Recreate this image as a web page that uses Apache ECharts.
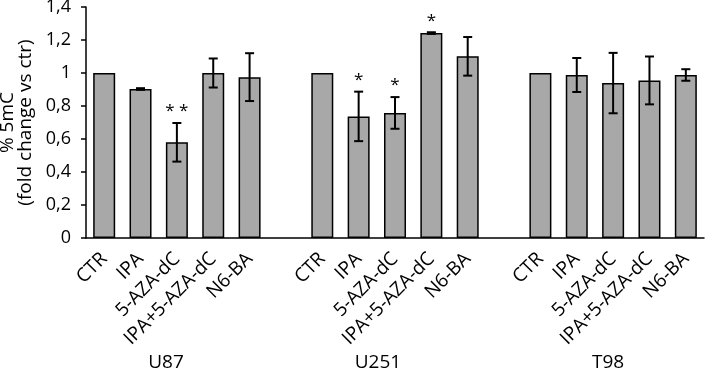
<!DOCTYPE html>
<html>
<head>
<meta charset="utf-8">
<script src="https://cdn.jsdelivr.net/npm/echarts@6/dist/echarts.min.js"></script>
<style>
  html, body { margin: 0; padding: 0; background: #fff; }
  #chart { width: 706px; height: 370px; }
</style>
</head>
<body>
<div id="chart"></div>
<script>
// 细胞系与处理
const groups = ['U87', 'U251', 'T98'];
const treatments = ['CTR', 'IPA', '5-AZA-dC', 'IPA+5-AZA-dC', 'N6-BA'];

// 均值 / 误差 / 显著性
const u87Means = [1.0, 0.903, 0.58, 1.0, 0.975];
const u87Errors = [0, 0.005, 0.117, 0.088, 0.145];
const u87Stars = ['', '', '**', '', ''];

const u251Means = [1.0, 0.737, 0.758, 1.242, 1.101];
const u251Errors = [0, 0.15, 0.096, 0.005, 0.117];
const u251Stars = ['', '*', '*', '*', ''];

const t98Means = [1.0, 0.988, 0.939, 0.955, 0.988];
const t98Errors = [0, 0.103, 0.183, 0.145, 0.035];
const t98Stars = ['', '', '', '', ''];

// group label positions on the slot scale (0..17)
const groupLabelPos = [2.2, 8.03, 14.36];

const FONT = '"Open Sans", "Noto Sans", sans-serif';

const allMeans = [u87Means, u251Means, t98Means];
const allErrors = [u87Errors, u251Errors, t98Errors];
const allStars = [u87Stars, u251Stars, t98Stars];

// build categories with one empty slot between groups
const categories = [];
const barData = [];
const errData = [];
groups.forEach((g, gi) => {
  if (gi > 0) {
    categories.push('');
    barData.push('-');
  }
  treatments.forEach((t, ti) => {
    const idx = categories.length;
    categories.push(t);
    barData.push(allMeans[gi][ti]);
    errData.push([idx, allMeans[gi][ti], allErrors[gi][ti], allStars[gi][ti]]);
  });
});

const chart = echarts.init(document.getElementById('chart'));

const option = {
  animation: false,
  backgroundColor: '#fff',
  grid: { left: 86, right: 2, top: 7, bottom: 132, outerBoundsMode: 'none' },
  xAxis: [
    {
      type: 'category',
      data: categories,
      axisLine: { lineStyle: { color: '#000', width: 1.5 } },
      axisTick: { show: false },
      axisLabel: {
        rotate: 45,
        interval: 0,
        margin: 18,
        color: '#000',
        fontSize: 19,
        fontFamily: FONT,
      },
    },
    {
      type: 'value',
      min: 0,
      max: 17,
      position: 'bottom',
      axisLine: { show: false },
      axisTick: { show: false },
      splitLine: { show: false },
      axisLabel: {
        customValues: groupLabelPos,
        margin: 115,
        color: '#000',
        fontSize: 19,
        fontFamily: FONT,
        formatter: (v) => {
          const i = groupLabelPos.indexOf(v);
          return i >= 0 ? groups[i] : '';
        },
      },
    },
  ],
  yAxis: {
    type: 'value',
    min: 0,
    max: 1.4,
    interval: 0.2,
    name: '% 5mC\n(fold change vs ctr)',
    nameLocation: 'middle',
    nameGap: 46,
    nameTextStyle: { color: '#000', fontSize: 19, fontFamily: FONT, lineHeight: 18 },
    axisLine: { show: true, lineStyle: { color: '#000', width: 1.5 } },
    axisTick: { show: true, length: 5, lineStyle: { color: '#000', width: 1.5 } },
    splitLine: { show: false },
    axisLabel: {
      margin: 15,
      color: '#000',
      fontSize: 18,
      fontFamily: FONT,
      formatter: (v) => String(Math.round(v * 10) / 10).replace('.', ','),
    },
  },
  series: [
    {
      type: 'bar',
      xAxisIndex: 0,
      data: barData,
      barWidth: 22,
      itemStyle: { color: '#a8a8a8', borderColor: '#000', borderWidth: 1.5 },
    },
    {
      type: 'custom',
      xAxisIndex: 0,
      data: errData,
      z: 5,
      renderItem: (params, api) => {
        const x = api.value(0);
        const mean = api.value(1);
        const err = api.value(2);
        const star = errData[params.dataIndex][3];
        const top = api.coord([x, mean + err]);
        const bot = api.coord([x, mean - err]);
        const hw = 4.5;
        const style = { stroke: '#000', lineWidth: 2 };
        const children = [];
        if (err > 0) {
          children.push(
            { type: 'line', shape: { x1: top[0], y1: top[1], x2: bot[0], y2: bot[1] }, style },
            { type: 'line', shape: { x1: top[0] - hw, y1: top[1], x2: top[0] + hw, y2: top[1] }, style },
            { type: 'line', shape: { x1: bot[0] - hw, y1: bot[1], x2: bot[0] + hw, y2: bot[1] }, style }
          );
        }
        if (star) {
          children.push({
            type: 'text',
            style: {
              text: star.split('').join(' '),
              x: top[0],
              y: top[1] - 3,
              align: 'center',
              verticalAlign: 'bottom',
              fill: '#000',
              font: '17px ' + FONT,
            },
          });
        }
        return { type: 'group', children };
      },
    },
  ],
};

chart.setOption(option);
</script>
</body>
</html>
